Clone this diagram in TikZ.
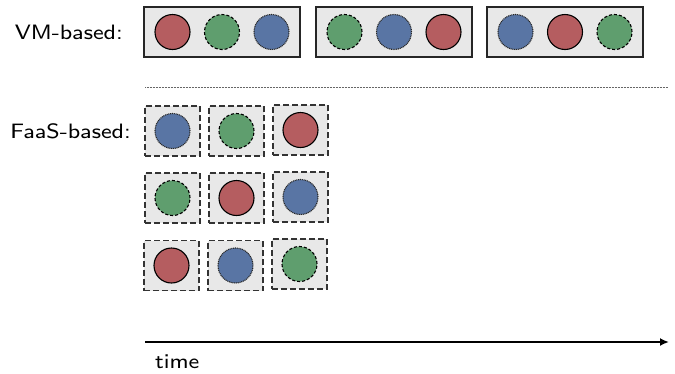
\documentclass[tikz,border=0pt]{standalone}
\usetikzlibrary{arrows.meta,calc}
\definecolor{cred}{HTML}{B55D60}
\definecolor{cgreen}{HTML}{5F9E6E}
\definecolor{cblue}{HTML}{5975A4}
\definecolor{boxfill}{HTML}{E8E8E8}
\newcommand{\lbltext}[1]{\scalebox{2.83}[2.6]{\sffamily\fontsize{8}{9}\selectfont #1}}
\begin{document}
\begin{tikzpicture}[x=1pt,y=-1pt,
  lbl/.style={inner sep=0pt},
  vmbox/.style={draw=black!85, line width=1.3pt, fill=boxfill, minimum width=156pt, minimum height=50pt, inner sep=0pt},
  faasbox/.style={draw=black!80, line width=1.1pt, dashed, dash pattern=on 6pt off 3pt, fill=boxfill, minimum width=55pt, minimum height=50pt, inner sep=0pt},
  ball/.style={circle, minimum size=35pt, inner sep=0pt, line width=1.1pt, draw=black},
  rball/.style={ball, fill=cred},
  gball/.style={ball, fill=cgreen, dash pattern=on 3pt off 2pt},
  bball/.style={ball, fill=cblue, dash pattern=on 1pt off 0.8pt, draw=black!85},
]
\useasboundingbox (0,0) rectangle (675,373);
% labels
\node[lbl, anchor=base east] (vmlabel) at (123,39.5) {\lbltext{VM-based:}};
\node[lbl, anchor=base east] (faaslabel) at (131,138.5) {\lbltext{FaaS-based:}};
% VM boxes
\node[vmbox] (vm1) at (222,32) {};
\node[vmbox] (vm2) at (394,32) {};
\node[vmbox] (vm3) at (565,32) {};
\node[rball] (vm1a) at ($(vm1)+(-49.5,0)$) {};
\node[gball] (vm1b) at (vm1) {};
\node[bball] (vm1c) at ($(vm1)+(49.5,0)$) {};
\node[gball] (vm2a) at ($(vm2)+(-49.5,0)$) {};
\node[bball] (vm2b) at (vm2) {};
\node[rball] (vm2c) at ($(vm2)+(49.5,0)$) {};
\node[bball] (vm3a) at ($(vm3)+(-49.5,0)$) {};
\node[rball] (vm3b) at (vm3) {};
\node[gball] (vm3c) at ($(vm3)+(49.5,0)$) {};
% separator
\coordinate (sepL) at (145,87);
\coordinate (sepR) at (668,87);
\draw[black!60, line width=0.5pt, dash pattern=on 0.6pt off 0.9pt] (sepL) -- (sepR);
% FaaS boxes
\node[faasbox] (f11) at (172.5,131) {};
\node[faasbox] (f12) at (236.5,131) {};
\node[faasbox] (f13) at (300.5,130) {};
\node[faasbox] (f21) at (172.5,198) {};
\node[faasbox] (f22) at (236.5,198) {};
\node[faasbox] (f23) at (300.5,197) {};
\node[faasbox] (f31) at (171.5,265.5) {};
\node[faasbox] (f32) at (235.5,265.5) {};
\node[faasbox] (f33) at (299.5,264) {};
\node[bball] (c11) at (f11) {};
\node[gball] (c12) at (f12) {};
\node[rball] (c13) at (f13) {};
\node[gball] (c21) at (f21) {};
\node[rball] (c22) at (f22) {};
\node[bball] (c23) at (f23) {};
\node[rball] (c31) at (f31) {};
\node[bball] (c32) at (f32) {};
\node[gball] (c33) at (f33) {};
% time axis
\coordinate (tL) at (145,342);
\coordinate (tR) at (669,342);
\draw[line width=2.5pt, -{Latex[length=9pt,width=8pt]}] (tL) -- (tR);
\node[lbl, anchor=base west] (timelabel) at (155,368.5) {\lbltext{time}};
\end{tikzpicture}
\end{document}
